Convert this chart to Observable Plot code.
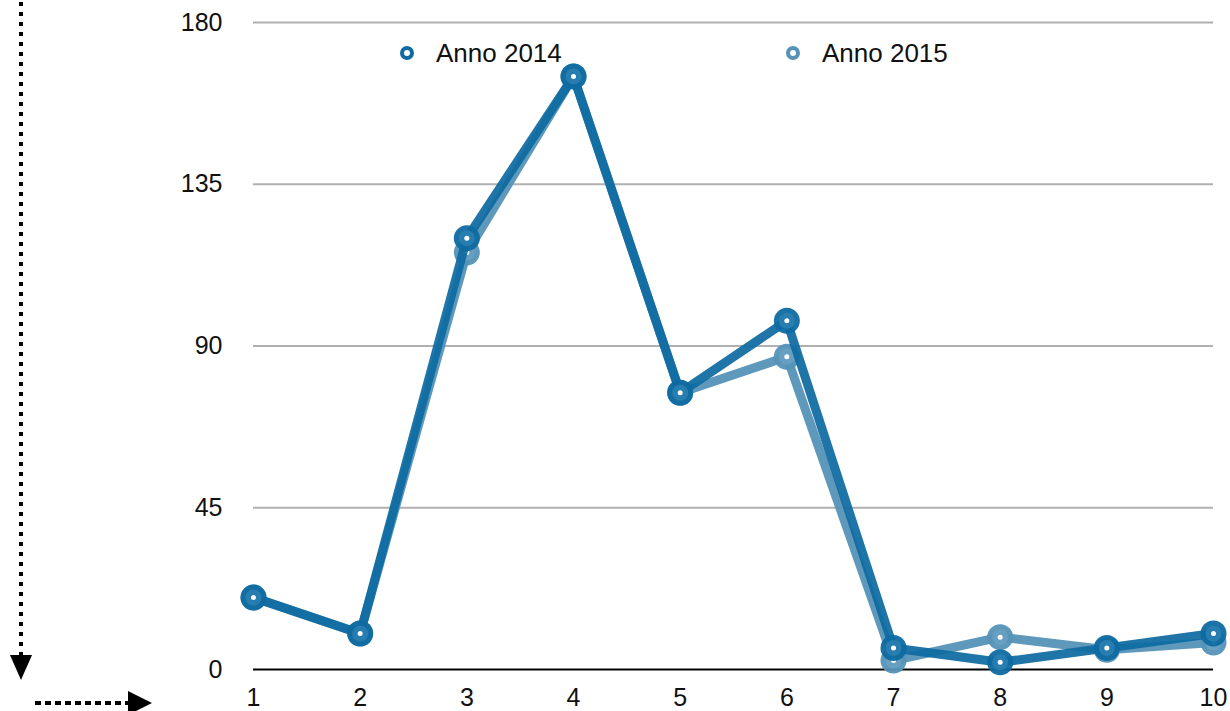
<!DOCTYPE html>
<html>
<head>
<meta charset="utf-8">
<script src="https://cdn.jsdelivr.net/npm/d3@7"></script>
<script src="https://cdn.jsdelivr.net/npm/@observablehq/plot@0.6"></script>
<style>
  html, body { margin: 0; padding: 0; background: #fff; }
  #wrap { position: relative; width: 1230px; height: 711px; font-family: "Liberation Sans", Arial, sans-serif; }
  #wrap svg.chart text { font-size: 25px; fill: #111; }
  #deco { position: absolute; left: 0; top: 0; pointer-events: none; }
  .legend { position: absolute; top: 37px; display: flex; align-items: center; font-size: 26px; line-height: 32px; color: #111; }
  .legend .m { width: 6px; height: 6px; border-radius: 50%; border: 4px solid; margin-right: 22px; background: #fff; }
</style>
</head>
<body>
<div id="wrap"></div>
<script>
const categories = [1, 2, 3, 4, 5, 6, 7, 8, 9, 10];
const anno2014 = [20, 10, 120, 165, 77, 97, 6, 2, 6, 10];
const anno2015 = [20, 10, 116, 165, 77, 87, 2.5, 9, 5.5, 7.5];
const yTicks = [0, 45, 90, 135, 180];
const seriesNames = ["Anno 2014", "Anno 2015"];
const seriesColors = ["#0e6aa1", "#5592b6"];

const rows = [];
categories.forEach((c, i) => rows.push({x: c, y: anno2015[i], s: seriesNames[1]}));
categories.forEach((c, i) => rows.push({x: c, y: anno2014[i], s: seriesNames[0]}));
const r15 = rows.filter(d => d.s === seriesNames[1]);
const r14 = rows.filter(d => d.s === seriesNames[0]);

const chart = Plot.plot({
  width: 1230,
  height: 711,
  marginLeft: 253,
  marginRight: 17,
  marginTop: 22,
  marginBottom: 42,
  className: "chart",
  style: {fontFamily: "'Liberation Sans', Arial, sans-serif", fontSize: "25px", color: "#111", background: "#fff"},
  x: {domain: [1, 10], label: null},
  y: {domain: [0, 180], label: null},
  marks: [
    Plot.gridY(yTicks.filter(t => t > 0), {stroke: "#b0b0b0", strokeOpacity: 1, strokeWidth: 2}),
    Plot.ruleY([0], {stroke: "#000", strokeWidth: 2}),
    Plot.axisY({ticks: yTicks, tickSize: 0, tickPadding: 31, fontSize: 25, label: null}),
    Plot.axisX({ticks: categories, tickFormat: d => String(d), tickSize: 0, tickPadding: 19, fontSize: 25, label: null}),
    Plot.line(r15, {x: "x", y: "y", stroke: seriesColors[1], strokeWidth: 9, strokeOpacity: 0.95, strokeLinejoin: "round"}),
    Plot.dot(r15, {x: "x", y: "y", r: 13, fill: seriesColors[1], fillOpacity: 0.95}),
    Plot.dot(r15, {x: "x", y: "y", r: 8, fill: "#6aa3c3", fillOpacity: 0.8}),
    Plot.dot(r15, {x: "x", y: "y", r: 2.5, fill: "#fff"}),
    Plot.line(r14, {x: "x", y: "y", stroke: seriesColors[0], strokeWidth: 9, strokeOpacity: 0.93, strokeLinejoin: "round"}),
    Plot.dot(r14, {x: "x", y: "y", r: 13, fill: seriesColors[0], fillOpacity: 0.95}),
    Plot.dot(r14, {x: "x", y: "y", r: 8, fill: "#2a7fb0", fillOpacity: 0.9}),
    Plot.dot(r14, {x: "x", y: "y", r: 2.5, fill: "#fff"})
  ]
});

const wrap = document.getElementById("wrap");
wrap.appendChild(chart);

// legend
[[seriesNames[0], seriesColors[0], 400], [seriesNames[1], seriesColors[1], 786]].forEach(([name, col, left]) => {
  const d = document.createElement("div");
  d.className = "legend";
  d.style.left = left + "px";
  const m = document.createElement("span");
  m.className = "m";
  m.style.borderColor = col;
  const t = document.createElement("span");
  t.textContent = name;
  d.appendChild(m); d.appendChild(t);
  wrap.appendChild(d);
});

// decorative dotted arrows
const ns = "http://www.w3.org/2000/svg";
const deco = document.createElementNS(ns, "svg");
deco.setAttribute("id", "deco");
deco.setAttribute("width", 1230);
deco.setAttribute("height", 711);
deco.innerHTML = `
  <line x1="21" y1="2" x2="21" y2="655" stroke="#000" stroke-width="4" stroke-dasharray="4,6"/>
  <polygon points="10,655 32,655 21,680" fill="#000"/>
  <line x1="35" y1="703" x2="130" y2="703" stroke="#000" stroke-width="4" stroke-dasharray="6,4"/>
  <polygon points="128,691 152,703 128,715" fill="#000"/>
`;
wrap.appendChild(deco);
</script>
</body>
</html>
